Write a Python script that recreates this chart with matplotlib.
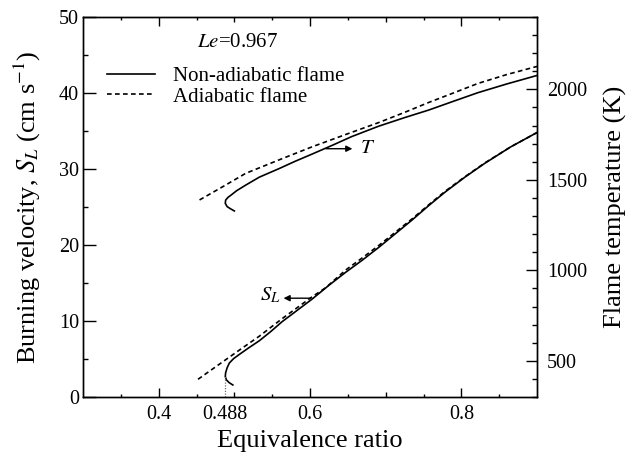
import matplotlib
matplotlib.use('Agg')
import matplotlib.pyplot as plt
from matplotlib.ticker import MultipleLocator, FixedLocator

plt.rcParams['font.family'] = 'Liberation Serif'
plt.rcParams['mathtext.fontset'] = 'stix'

# lean limit of the non-adiabatic flame
phi_limit = 0.488
le_number = 0.967

# burning velocity S_L (cm/s), non-adiabatic (starts on the lower branch)
phi_sl_na = [0.498, 0.493, 0.4895, 0.488, 0.4885, 0.4905, 0.4934, 0.499, 0.5066, 0.518,
             0.533, 0.548, 0.563, 0.583, 0.603, 0.625, 0.647, 0.669, 0.691, 0.713,
             0.735, 0.757, 0.779, 0.805, 0.831, 0.865, 0.9]
sl_na = [1.58, 1.9, 2.25, 2.7, 3.2, 3.85, 4.47, 5.05, 5.6, 6.4,
         7.4, 8.6, 9.9, 11.4, 12.9, 14.7, 16.4, 18.0, 19.7, 21.5,
         23.3, 25.2, 27.0, 28.95, 30.75, 32.9, 34.8]

# burning velocity S_L, adiabatic
phi_sl_ad = [0.452, 0.48, 0.507, 0.533, 0.563, 0.603, 0.621, 0.647, 0.669, 0.691,
             0.713, 0.735, 0.757, 0.779, 0.805, 0.831, 0.865, 0.9]
sl_ad = [2.33, 4.3, 6.2, 8.0, 10.3, 13.2, 14.4, 16.7, 18.3, 19.95,
         21.7, 23.45, 25.3, 27.1, 29.0, 30.8, 32.9, 34.8]

# flame temperature T (K), non-adiabatic
phi_t_na = [0.5, 0.495, 0.4905, 0.488, 0.4885, 0.4915, 0.4957, 0.503, 0.5154, 0.533,
            0.559, 0.58, 0.603, 0.63, 0.655, 0.691, 0.725, 0.757, 0.79, 0.822,
            0.86, 0.9]
t_na = [1328, 1340, 1352, 1370, 1388, 1403, 1416, 1440, 1472, 1515,
        1562, 1602, 1643, 1692, 1739, 1797, 1844, 1886, 1935, 1982,
        2030, 2077]

# flame temperature T, adiabatic
phi_t_ad = [0.454, 0.485, 0.515, 0.56, 0.603, 0.648, 0.691, 0.725, 0.757, 0.79,
            0.822, 0.86, 0.9]
t_ad = [1389, 1463, 1536, 1612, 1683, 1752, 1817, 1873, 1928, 1981,
        2033, 2082, 2127]

xtick_pos = [0.4, phi_limit, 0.5, 0.6, 0.7, 0.8]
xtick_lab = ['0.4', '0.488', '', '0.6', '', '0.8']

fig = plt.figure(figsize=(6.27, 4.55), dpi=100)
ax = fig.add_axes([0.1324, 0.1275, 0.7241, 0.8351])
ax2 = ax.twinx()

dash = (0, (2.8, 2.0))
ax.plot(phi_sl_na, sl_na, color='k', lw=1.2, label='Non-adiabatic flame')
ax.plot(phi_sl_ad, sl_ad, color='k', lw=1.2, ls=dash, label='Adiabatic flame')
ax2.plot(phi_t_na, t_na, color='k', lw=1.2)
ax2.plot(phi_t_ad, t_ad, color='k', lw=1.2, ls=dash)
ax.vlines(phi_limit, 0, sl_na[phi_sl_na.index(phi_limit)], colors='0.45',
          linestyles=(0, (1, 1.2)), lw=0.9)

ax.set_xlim(0.3, 0.9)
ax.set_ylim(0, 50)
ax2.set_ylim(300, 2400)

ax.set_xticks(xtick_pos)
ax.set_xticklabels(xtick_lab)
ax.xaxis.set_minor_locator(FixedLocator([0.35, 0.45, 0.55, 0.65, 0.75, 0.85]))
ax.yaxis.set_major_locator(MultipleLocator(10))
ax.yaxis.set_minor_locator(MultipleLocator(5))
ax2.set_yticks([500, 1000, 1500, 2000])
ax2.yaxis.set_minor_locator(MultipleLocator(100))

ax.tick_params(axis='x', which='both', direction='in', top=True, bottom=True,
               labelsize=14.5, pad=6, width=1)
ax.tick_params(axis='x', which='major', length=6.5)
ax.tick_params(axis='x', which='minor', length=2.2)
ax.tick_params(axis='y', which='both', direction='in', left=True, right=False,
               labelsize=14.5, pad=3, width=1)
ax.tick_params(axis='y', which='major', length=9.5)
ax.tick_params(axis='y', which='minor', length=3.6)
ax2.tick_params(axis='y', which='both', direction='in', labelsize=14.5, pad=7, width=1)
ax2.tick_params(axis='y', which='major', length=8)
ax2.tick_params(axis='y', which='minor', length=3.4)

for sp in list(ax.spines.values()) + list(ax2.spines.values()):
    sp.set_linewidth(1.0)

ax.set_xlabel('Equivalence ratio', fontsize=19, labelpad=4)
ax.set_ylabel('Burning velocity, $S_L$ (cm s$^{-1}$)', fontsize=19, labelpad=11)
ax2.set_ylabel('Flame temperature (K)', fontsize=19, labelpad=12)

ax.legend(loc='upper left', bbox_to_anchor=(0.053, 0.87), frameon=False, fontsize=15,
          handlelength=2.3, handletextpad=0.85, labelspacing=0.05,
          borderpad=0, borderaxespad=0)

ax.text(0.5046, 46.6, '$Le$=%.3f' % le_number, ha='center', va='center', fontsize=15)

arrow = dict(arrowstyle='-|>', color='k', lw=1.0, mutation_scale=9, shrinkA=0, shrinkB=0)
ax.annotate('', xy=(0.565, 13.0), xytext=(0.601, 13.0), arrowprops=arrow)
ax.text(0.5615, 13.3, '$S_L$', ha='right', va='center', fontsize=15)
ax.annotate('', xy=(0.656, 32.67), xytext=(0.621, 32.67), arrowprops=arrow)
ax.text(0.666, 32.67, '$T$', ha='left', va='center', fontsize=15)

# 0.488 gets a label but no tick mark; 0.5 and 0.7 are mid-length
for tk, pos in zip(ax.xaxis.get_major_ticks(), xtick_pos):
    if pos == phi_limit:
        tk.tick1line.set_visible(False)
        tk.tick2line.set_visible(False)
    elif pos in (0.5, 0.7):
        tk.tick1line.set_markersize(3.8)
        tk.tick2line.set_markersize(3.8)

fig.savefig('out.png', dpi=100)
